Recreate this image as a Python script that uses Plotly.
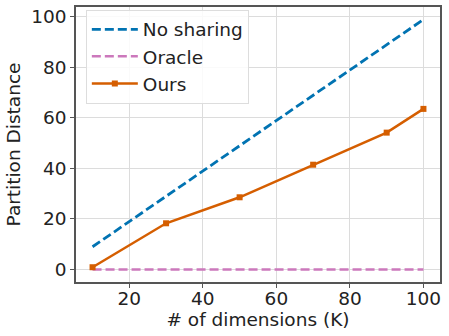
import plotly.graph_objects as go

# values
dims = [10, 30, 50, 70, 90, 100]
no_sharing = [9, 29, 49, 69, 89, 99]
oracle = [0, 0, 0, 0, 0, 0]
ours = [0.9, 18.3, 28.6, 41.5, 54.2, 63.6]

colors = {
    'no_sharing': '#0173b2',
    'oracle': '#cc78bc',
    'ours': '#d55e00'
}

font_family = 'DejaVu Sans'
fsize = 18.5

fig = go.Figure()

fig.add_trace(go.Scatter(
    x=dims, y=no_sharing, mode='lines', name='No sharing',
    line=dict(color=colors['no_sharing'], width=2.8, dash='9px,4px')
))
fig.add_trace(go.Scatter(
    x=dims, y=oracle, mode='lines', name='Oracle',
    line=dict(color=colors['oracle'], width=2.5, dash='9px,4px')
))
fig.add_trace(go.Scatter(
    x=dims, y=ours, mode='lines+markers', name='Ours',
    line=dict(color=colors['ours'], width=2.5),
    marker=dict(symbol='square', size=6, color=colors['ours'])
))

axis_style = dict(
    showline=True, mirror=True, linecolor='#555555', linewidth=1.5,
    showgrid=True, gridcolor='#dcdcdc', gridwidth=1,
    ticks='outside', ticklen=4, tickcolor='#555555', tickwidth=1.2,
    zeroline=False, automargin=False,
    tickfont=dict(family=font_family, size=fsize, color='#222222'),
)

fig.update_xaxes(
    range=[5.5, 104.5], tickvals=[20, 40, 60, 80, 100],
    ticklabelstandoff=-5,
    title=dict(text='# of dimensions (K)', standoff=2,
               font=dict(family=font_family, size=fsize, color='#222222')),
    **axis_style
)
fig.update_yaxes(
    range=[-4.95, 103.95], tickvals=[0, 20, 40, 60, 80, 100],
    title=dict(text='Partition Distance', standoff=6,
               font=dict(family=font_family, size=fsize, color='#222222')),
    **axis_style
)

fig.update_layout(
    width=449, height=336,
    margin=dict(l=76, r=9, t=7, b=54),
    plot_bgcolor='white', paper_bgcolor='white',
    font=dict(family=font_family, color='#222222'),
    showlegend=True,
    legend=dict(
        x=0.027, y=0.99, xanchor='left', yanchor='top',
        bgcolor='rgba(255,255,255,0.85)', bordercolor='#dddddd', borderwidth=1,
        font=dict(family=font_family, size=fsize, color='#222222'),
        tracegroupgap=0, itemwidth=46
    )
)

# drop the browser's default body margin so the figure sits at the page corner
fig.write_html("out.html", config={'displayModeBar': False},
               post_script="document.body.style.margin='0';")
